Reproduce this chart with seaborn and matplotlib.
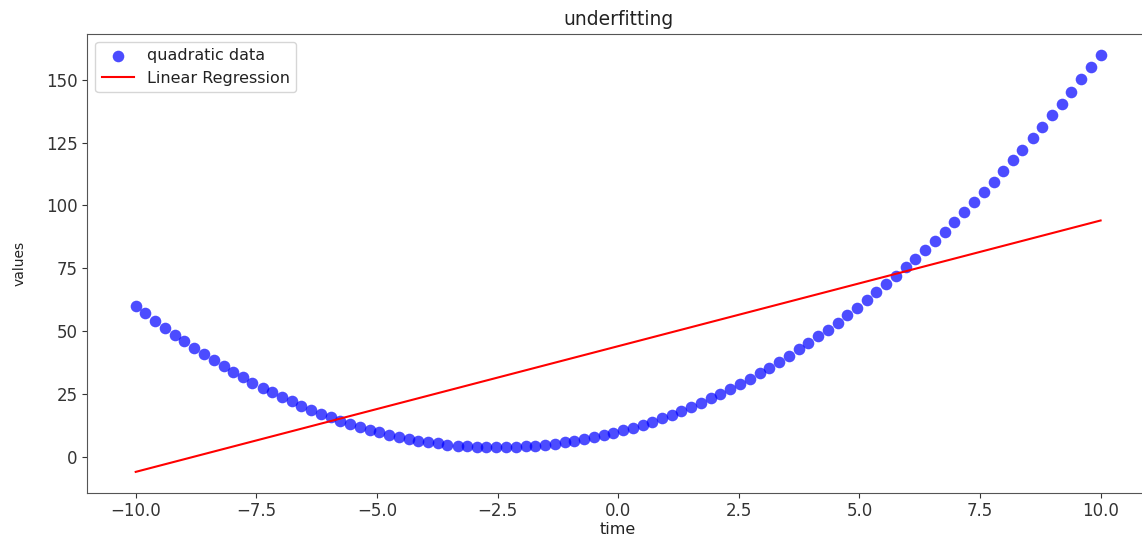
# underfitting demo: quadratic data vs a straight linear regression fit
import matplotlib
matplotlib.use("Agg")
import matplotlib.pyplot as plt
import seaborn as sns
import pandas as pd

# quadratic data points
time_vals = [
    -10.00, -9.80, -9.60, -9.39, -9.19, -8.99, -8.79, -8.59, -8.38, -8.18,
    -7.98, -7.78, -7.58, -7.37, -7.17, -6.97, -6.77, -6.57, -6.36, -6.16,
    -5.96, -5.76, -5.56, -5.35, -5.15, -4.95, -4.75, -4.55, -4.34, -4.14,
    -3.94, -3.74, -3.54, -3.33, -3.13, -2.93, -2.73, -2.53, -2.32, -2.12,
    -1.92, -1.72, -1.52, -1.31, -1.11, -0.91, -0.71, -0.51, -0.30, -0.10,
    0.10, 0.30, 0.51, 0.71, 0.91, 1.11, 1.31, 1.52, 1.72, 1.92,
    2.12, 2.32, 2.53, 2.73, 2.93, 3.13, 3.33, 3.54, 3.74, 3.94,
    4.14, 4.34, 4.55, 4.75, 4.95, 5.15, 5.35, 5.56, 5.76, 5.96,
    6.16, 6.36, 6.57, 6.77, 6.97, 7.17, 7.37, 7.58, 7.78, 7.98,
    8.18, 8.38, 8.59, 8.79, 8.99, 9.19, 9.39, 9.60, 9.80, 10.00,
]
quad_vals = [
    60.0, 57.0, 54.1, 51.3, 48.5, 45.9, 43.3, 40.8, 38.4, 36.0,
    33.8, 31.6, 29.5, 27.5, 25.6, 23.7, 22.0, 20.3, 18.7, 17.2,
    15.7, 14.4, 13.1, 11.9, 10.8, 9.8, 8.8, 7.9, 7.1, 6.4,
    5.8, 5.3, 4.8, 4.4, 4.1, 3.9, 3.8, 3.8, 3.8, 3.9,
    4.1, 4.4, 4.7, 5.2, 5.7, 6.3, 7.0, 7.7, 8.6, 9.5,
    10.5, 11.6, 12.8, 14.0, 15.4, 16.8, 18.3, 19.9, 21.5, 23.3,
    25.1, 27.0, 29.0, 31.1, 33.2, 35.5, 37.8, 40.2, 42.7, 45.2,
    47.9, 50.6, 53.4, 56.3, 59.2, 62.3, 65.4, 68.6, 71.9, 75.3,
    78.8, 82.3, 85.9, 89.6, 93.4, 97.3, 101.2, 105.3, 109.4, 113.6,
    117.9, 122.2, 126.7, 131.2, 135.8, 140.5, 145.2, 150.1, 155.0, 160.0,
]

# linear regression line end points
reg_time = [-10.0, 10.0]
reg_vals = [-6.0, 94.0]

data_df = pd.DataFrame({"time": time_vals, "values": quad_vals})
reg_df = pd.DataFrame({"time": reg_time, "values": reg_vals})

fig, ax = plt.subplots(figsize=(11.42, 5.35), dpi=100)

sns.scatterplot(
    x="time", y="values", data=data_df, color="blue", alpha=0.7,
    s=70, linewidth=0, label="quadratic data", ax=ax
)
sns.lineplot(
    x="time", y="values", data=reg_df, color="red", linewidth=1.5,
    label="Linear Regression", ax=ax
)

ax.set_title("underfitting", fontsize=13.5, color="#222222")
ax.set_xlabel("time", fontsize=11.5, labelpad=1, color="#222222")
ax.set_ylabel("values", fontsize=10, labelpad=14, color="#222222")
ax.tick_params(labelsize=12, colors="#333333")
for sp in ax.spines.values():
    sp.set_color("#555555")
leg = ax.legend(loc="upper left", fontsize=11.5)
for t in leg.get_texts():
    t.set_color("#222222")

# right spine sits just past the picture edge in the reference
plt.subplots_adjust(left=0.0766, right=1.006, top=0.937, bottom=0.079)
plt.savefig("out.png", dpi=100)
